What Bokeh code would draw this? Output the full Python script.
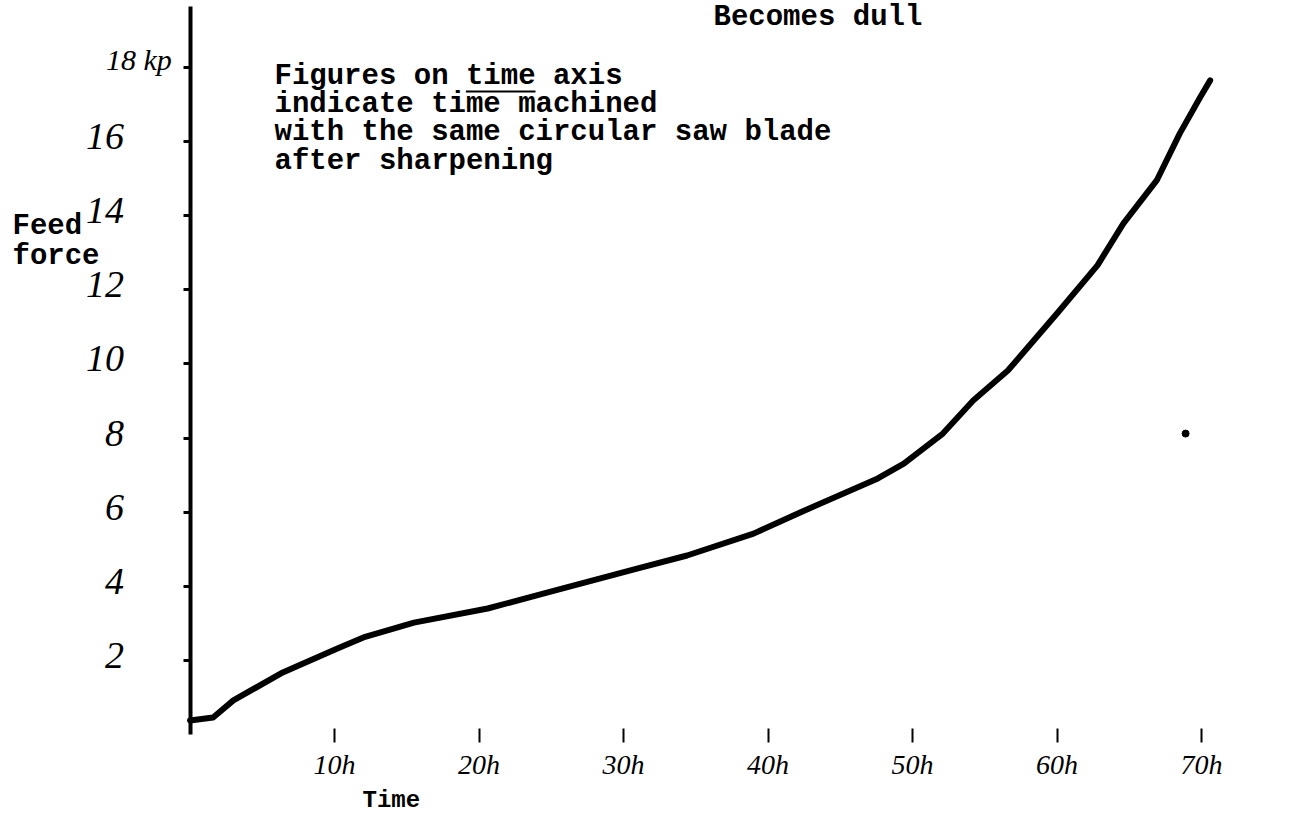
from bokeh.plotting import figure
from bokeh.models import LinearAxis, FixedTicker, Range1d
from bokeh.core.properties import value
from bokeh.embed import file_html
from bokeh.resources import INLINE

# ---- data ----
time_h = [0, 1.6, 3.0, 6.3, 10.2, 12.0, 15.5, 20.6, 24.7, 31.0, 34.4, 39.0, 42.5,
          47.6, 49.4, 52.1, 54.2, 56.6, 60.0, 62.8, 64.6, 66.9, 68.5, 69.9, 70.6]
feed_force = [0.38, 0.46, 0.92, 1.65, 2.32, 2.62, 3.02, 3.40, 3.83, 4.48, 4.83, 5.42, 6.04,
              6.91, 7.31, 8.12, 9.01, 9.82, 11.36, 12.66, 13.79, 14.95, 16.22, 17.19, 17.65]
stray_t = [68.9]
stray_f = [8.12]

x_ticks = [10, 20, 30, 40, 50, 60, 70]
x_labels = ["10h", "20h", "30h", "40h", "50h", "60h", "70h"]
y_ticks = [2, 4, 6, 8, 10, 12, 14, 16, 18]
y_labels = ["2", "4", "6", "8", "10", "12", "14", "16", "18 kp"]

note_lines = ["Figures on time axis",
              "indicate time machined",
              "with the same circular saw blade",
              "after sharpening"]
title_text = "Becomes dull"
y_title = ["Feed", "force"]
x_title = "Time"

# ---- figure ----
W, H = 1285, 817
PX_PER_H = 14.45      # pixels per hour
PX_PER_F = 37.06      # pixels per force unit
X0, Y0 = 189.5, 734   # pixel position of origin inside the canvas


def tx(px):
    return (px - X0) / PX_PER_H


def fy(py):
    return (Y0 - py) / PX_PER_F


p = figure(width=W, height=H, output_backend="svg", toolbar_location=None,
           x_axis_type=None, y_axis_type=None,
           x_range=Range1d(tx(0), tx(W)), y_range=Range1d(fy(H), fy(0)),
           min_border=0, outline_line_color=None, background_fill_color="white",
           border_fill_color="white")
p.grid.visible = False

hand = "Liberation Serif"
mono = "Liberation Mono"

# vertical axis: line and ticks; its handwritten labels sit just above each tick
yax = LinearAxis(fixed_location=0, ticker=FixedTicker(ticks=y_ticks),
                 major_label_overrides={t: "" for t in y_ticks},
                 axis_line_width=4, axis_line_color="black",
                 major_tick_in=0, major_tick_out=7, major_tick_line_width=3,
                 minor_tick_line_color=None,
                 bounds=(0, fy(6)))
p.add_layout(yax, "left")

n = len(y_ticks) - 1
p.text(x=[0] * n, y=y_ticks[:n], text=y_labels[:n],
       x_offset=-66, y_offset=-5,
       text_font=value(hand), text_font_style="italic", text_font_size="38px",
       text_align="right", text_baseline="alphabetic", text_color="black")
p.text(x=[0], y=y_ticks[n:], text=y_labels[n:],
       x_offset=-84, y_offset=-8,
       text_font=value(hand), text_font_style="italic", text_font_size="30px",
       text_align="left", text_baseline="alphabetic", text_color="black")

xax = LinearAxis(fixed_location=0, ticker=FixedTicker(ticks=x_ticks),
                 major_label_overrides={t: l for t, l in zip(x_ticks, x_labels)},
                 axis_line_color=None,
                 major_tick_in=6, major_tick_out=8, major_tick_line_width=2,
                 minor_tick_line_color=None,
                 major_label_standoff=6,
                 major_label_text_font=hand, major_label_text_font_style="italic",
                 major_label_text_font_size="28px", major_label_text_color="black")
p.add_layout(xax, "below")

# curve
p.line(time_h, feed_force, line_width=6, line_color="black",
       line_cap="round", line_join="round")
p.scatter(stray_t, stray_f, size=7, color="black")

# annotation block (typewriter)
FS = 29
cw = 0.6 * FS
note_x = tx(274)
note_y = [fy(yy) for yy in (76, 104, 132, 161)]
p.text(x=[note_x] * len(note_lines), y=note_y, text=note_lines,
       text_font=value(mono), text_font_style="bold", text_font_size=f"{FS}px",
       text_align="left", text_baseline="middle", text_color="black")
# underline under "time"
u0 = note_x + 11 * cw / PX_PER_H
u1 = note_x + 15 * cw / PX_PER_H
uy = note_y[0] - 15 / PX_PER_F
p.segment(x0=[u0], y0=[uy], x1=[u1], y1=[uy], line_width=2, line_color="black")

# title at the top
p.text(x=[tx(713)], y=[fy(0)], text=[title_text],
       text_font=value(mono), text_font_style="bold", text_font_size=f"{FS}px",
       text_align="left", text_baseline="top", text_color="black")

# y title
p.text(x=[tx(12)] * 2, y=[fy(yy) for yy in (226, 256)], text=y_title,
       text_font=value(mono), text_font_style="bold", text_font_size=f"{FS}px",
       text_align="left", text_baseline="middle", text_color="black")

# x title
p.text(x=[tx(362)], y=[fy(800)], text=[x_title],
       text_font=value(mono), text_font_style="bold", text_font_size="24px",
       text_align="left", text_baseline="middle", text_color="black")

open("out.html", "w").write(file_html(p, INLINE))
